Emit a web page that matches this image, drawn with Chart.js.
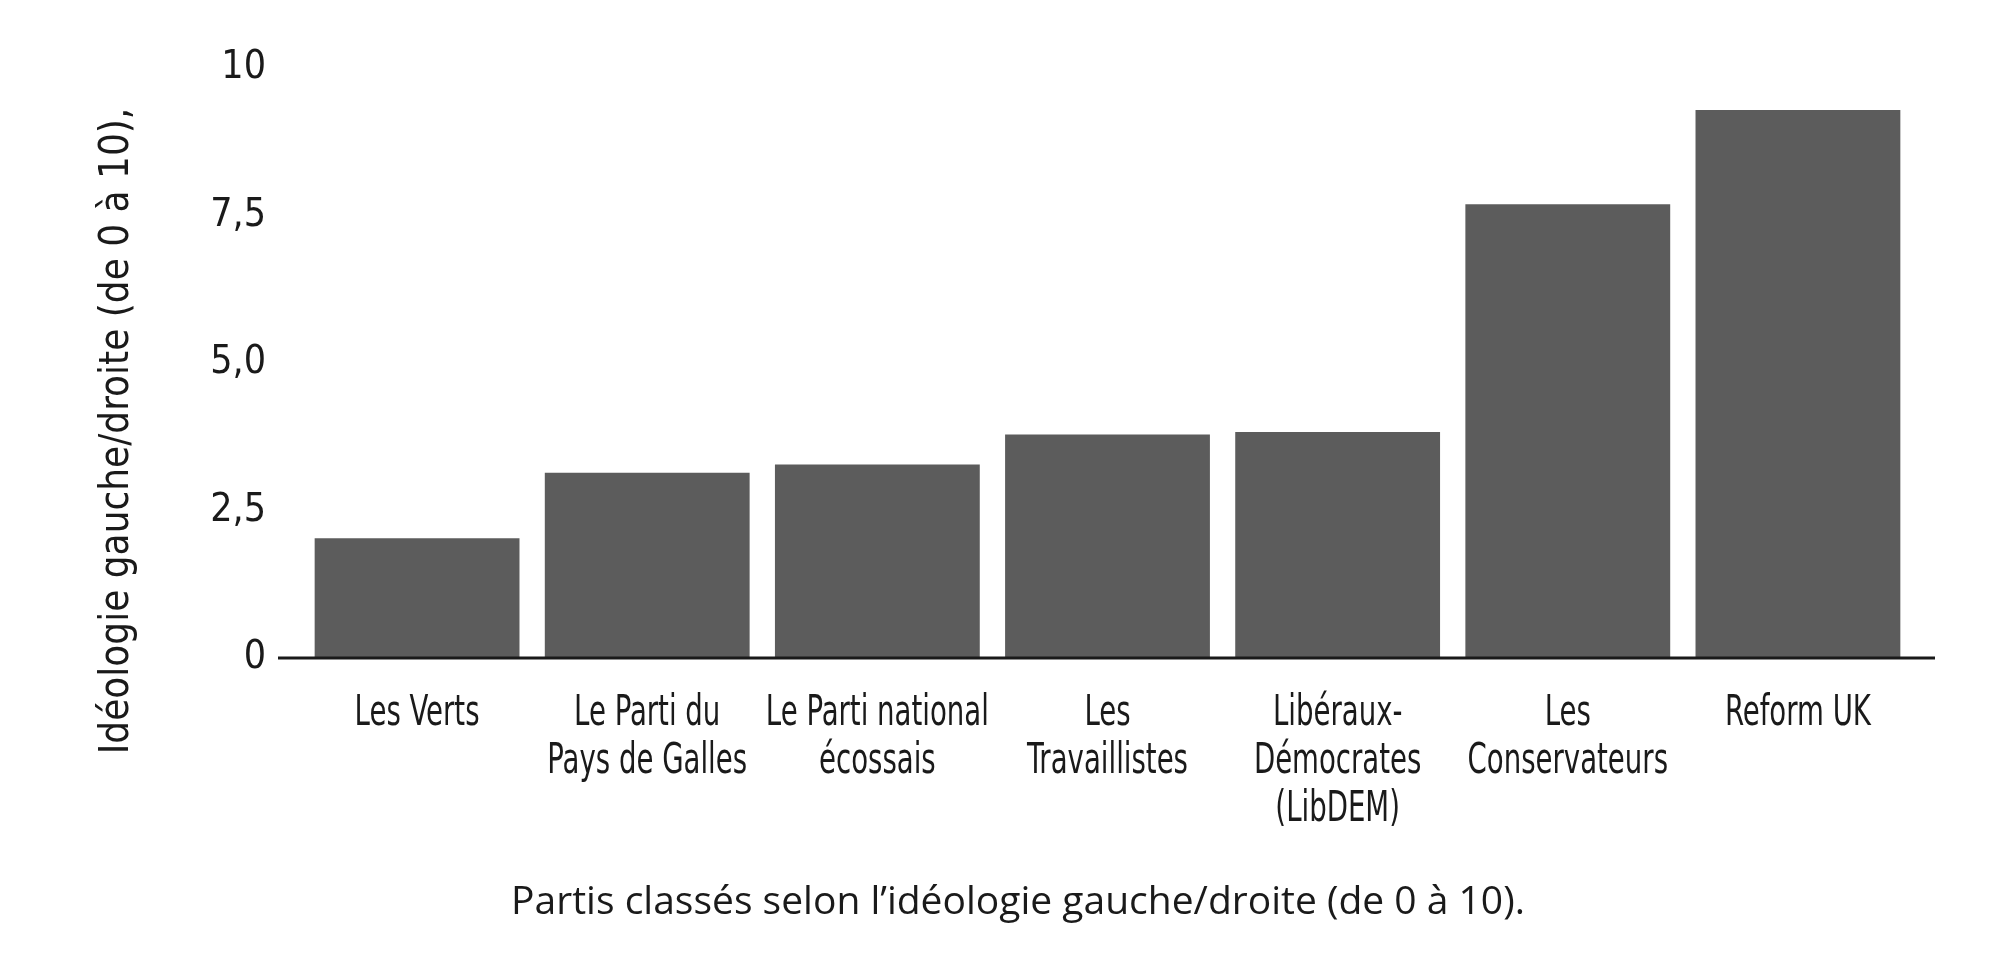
<!DOCTYPE html>
<html>
<head>
<meta charset="utf-8">
<script src="https://cdn.jsdelivr.net/npm/chart.js@4"></script>
<style>
  html, body { margin: 0; padding: 0; background: #fff; }
  #wrap { width: 1994px; height: 966px; position: relative; }
</style>
</head>
<body>
<div id="wrap"><canvas id="chart"></canvas></div>
<script>
// Data
const parties = [
    ['Les Verts'],
    ['Le Parti du', 'Pays de Galles'],
    ['Le Parti national', 'écossais'],
    ['Les', 'Travaillistes'],
    ['Libéraux-', 'Démocrates', '(LibDEM)'],
    ['Les', 'Conservateurs'],
    ['Reform UK']
];
const ideologyScores = [2.03, 3.14, 3.28, 3.79, 3.83, 7.69, 9.29];
const yTickLabels = ['0', '2,5', '5,0', '7,5', '10'];
const yTitle = 'Idéologie gauche/droite (de 0 à 10),';
const xTitle = 'Partis classés selon l\u2019idéologie gauche/droite (de 0 à 10).';

const narrow = '"Liberation Sans Narrow", "DejaVu Sans Condensed", "Liberation Sans", sans-serif';
const ink = '#1a1a1a';

// Baseline that runs a bit past the bars, squeezed category labels, axis titles
const extras = {
    id: 'extras',
    afterDraw(chart) {
        const ctx = chart.ctx;
        const area = chart.chartArea;
        const xScale = chart.scales.x;
        const y0 = chart.scales.y.getPixelForValue(0);
        ctx.save();
        ctx.strokeStyle = ink;
        ctx.lineWidth = 3;
        ctx.beginPath();
        ctx.moveTo(area.left - 24, y0);
        ctx.lineTo(area.right + 22, y0);
        ctx.stroke();

        ctx.fillStyle = ink;
        ctx.textAlign = 'center';
        ctx.textBaseline = 'alphabetic';

        // category labels, condensed like the original typeface
        ctx.font = '42px ' + narrow;
        parties.forEach((lines, i) => {
            const x = xScale.getPixelForTick(i);
            lines.forEach((line, j) => {
                ctx.save();
                ctx.translate(x, y0 + 67 + j * 48);
                ctx.scale(0.73, 1);
                ctx.fillText(line, 0, 0);
                ctx.restore();
            });
        });

        ctx.textBaseline = 'middle';
        ctx.font = '39px "Open Sans", "Liberation Sans", sans-serif';
        ctx.fillText(xTitle, 1018, 903);

        ctx.translate(118, 431);
        ctx.rotate(-Math.PI / 2);
        ctx.font = '40px ' + narrow;
        ctx.fillText(yTitle, 0, 0);
        ctx.restore();
    }
};

document.addEventListener('DOMContentLoaded', () => {
    window.ideologyChart = new Chart(document.getElementById('chart'), {
        type: 'bar',
        data: {
            labels: parties,
            datasets: [{
                label: 'Idéologie',
                data: ideologyScores,
                backgroundColor: '#5c5c5c',
                borderWidth: 0,
                barPercentage: 0.89,
                categoryPercentage: 1.0
            }]
        },
        options: {
            responsive: true,
            maintainAspectRatio: false,
            animation: false,
            devicePixelRatio: 1,
            layout: {
                padding: { left: 0, right: 81, top: 68, bottom: 0 }
            },
            plugins: {
                legend: { display: false },
                tooltip: { enabled: false }
            },
            scales: {
                x: {
                    grid: { display: false, drawTicks: false },
                    border: { display: false },
                    ticks: { display: false },
                    afterFit(scale) { scale.height = 308; }
                },
                y: {
                    min: 0,
                    max: 10,
                    grid: { display: false, drawTicks: false },
                    border: { display: false },
                    ticks: {
                        stepSize: 2.5,
                        color: ink,
                        padding: 36,
                        font: { family: narrow, size: 39 },
                        callback: (value) => yTickLabels[Math.round(value / 2.5)]
                    },
                    afterFit(scale) { scale.width = 302; }
                }
            }
        },
        plugins: [extras]
    });
});
</script>
</body>
</html>
